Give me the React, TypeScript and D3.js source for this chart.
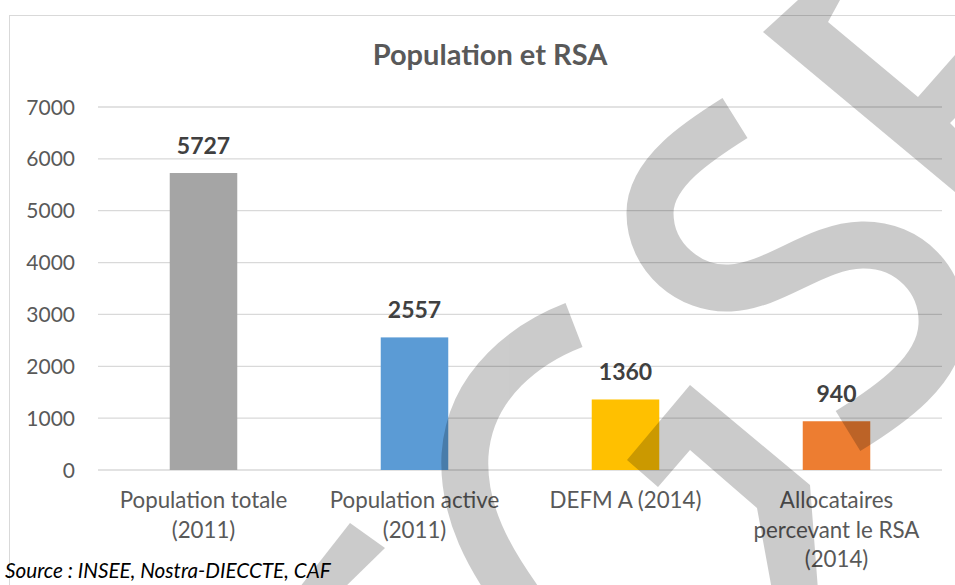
import React, { useEffect } from "react";
import * as d3 from "d3";

// ---- data ----
const categories = [
  "Population totale (2011)",
  "Population active (2011)",
  "DEFM A (2014)",
  "Allocataires percevant le RSA (2014)",
];
const categoryLines = [
  ["Population totale", "(2011)"],
  ["Population active", "(2011)"],
  ["DEFM A (2014)"],
  ["Allocataires", "percevant le RSA", "(2014)"],
];
const values = [5727, 2557, 1360, 940];
const barColors = ["#a5a5a5", "#5b9bd5", "#ffc000", "#ed7d31"];
const yTicks = [0, 1000, 2000, 3000, 4000, 5000, 6000, 7000];
const title = "Population et RSA";
const sourceText = "Source : INSEE, Nostra-DIECCTE, CAF";

// ---- layout ----
const W = 955;
const H = 585;
const plot = { left: 98, right: 942, top: 107, bottom: 470 };
const FONT = "Lato, 'Open Sans', sans-serif";

// decorative watermark strokes (not data)
const wmStrokes = [
  "M735,118 C700,140 650,172 650,213 C650,258 690,290 730,288 C775,286 815,246 862,245 C910,244 944,282 942,325 C940,370 892,404 848,431",
  "M574,325 C530,342 470,382 465,455 C462,512 490,560 522,604",
];
const wmPolys = [
  "M763,32 L798,0 L840,0 L828,22 L918,97 L955,55 L955,118 L950,123 L955,128 L955,192 Z",
  "M627,460 L690,385 L810,485 L818,590 L772,590 L757,508 L690,450 L658,487 Z",
  "M350,523 L385,548 L340,592 L296,592 Z",
];

export default function App() {
  useEffect(() => {
    document.body.style.margin = "0";
  }, []);

  const x = d3
    .scaleBand<string>()
    .domain(categories)
    .range([plot.left, plot.right])
    .paddingInner(0.68)
    .paddingOuter(0.34);
  const y = d3.scaleLinear().domain([0, 7000]).range([plot.bottom, plot.top]);

  return (
    <svg width={W} height={H} style={{ display: "block", background: "#fff" }}>
      <rect x={9.5} y={15.5} width={980} height={600} fill="#fff" stroke="#d9d9d9" strokeWidth={1} />
      <text
        x={490}
        y={65}
        textAnchor="middle"
        fontFamily={FONT}
        fontWeight="bold"
        fontSize={29}
        fill="#595959"
      >
        {title}
      </text>
      {yTicks.map((t) => (
        <g key={t}>
          <line
            x1={plot.left}
            x2={plot.right}
            y1={y(t)}
            y2={y(t)}
            stroke="#d9d9d9"
            strokeWidth={1.3}
          />
          <text
            x={75}
            y={y(t)}
            dy="0.36em"
            textAnchor="end"
            fontFamily={FONT}
            fontSize={21}
            fill="#595959"
          >
            {t}
          </text>
        </g>
      ))}
      {categories.map((c, i) => {
        const bx = x(c)!;
        const bw = x.bandwidth();
        const cx = bx + bw / 2;
        return (
          <g key={c}>
            <rect x={bx} y={y(values[i])} width={bw} height={y(0) - y(values[i])} fill={barColors[i]} />
            <text
              x={cx}
              y={y(values[i]) - 19.5}
              textAnchor="middle"
              fontFamily={FONT}
              fontWeight="bold"
              fontSize={23}
              fill="#404040"
            >
              {values[i]}
            </text>
            {categoryLines[i].map((ln, j) => (
              <text
                key={j}
                x={cx}
                y={508 + j * 29.5}
                textAnchor="middle"
                fontFamily={FONT}
                fontSize={22.3}
                fill="#595959"
              >
                {ln}
              </text>
            ))}
          </g>
        );
      })}
      <text x={5} y={578} fontFamily={FONT} fontStyle="italic" fontSize={20.7} fill="#000">
        {sourceText}
      </text>
      <g opacity={0.2}>
        {wmStrokes.map((d, i) => (
          <path key={"s" + i} d={d} fill="none" stroke="#000" strokeWidth={47} />
        ))}
        {wmPolys.map((d, i) => (
          <path key={"p" + i} d={d} fill="#000" />
        ))}
      </g>
    </svg>
  );
}
